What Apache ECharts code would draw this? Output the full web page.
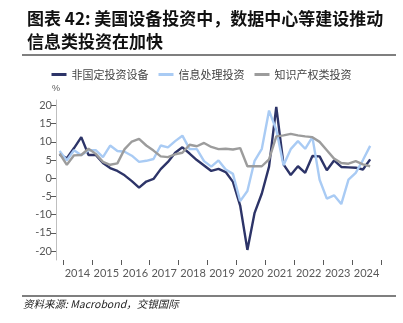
<!DOCTYPE html>
<html><head><meta charset="utf-8">
<script src="https://cdn.jsdelivr.net/npm/echarts@6/dist/echarts.min.js"></script>
<style>html,body{margin:0;padding:0;background:#fff}#c{width:403px;height:323px}</style>
</head><body><div id="c"></div>
<script>
// Quarterly data 2013Q4 .. 2024Q3 (YoY, %)
var startYear = 2013, startQuarter = 4, nPoints = 44;
var yearLabels = ['2014','2015','2016','2017','2018','2019','2020','2021','2022','2023','2024'];
var seriesNames = ['非国定投资设备','信息处理投资','知识产权类投资'];
var equipment = [6.5,5.5,8.3,11.3,6.4,6.4,4.2,2.8,2.0,0.8,-0.8,-2.6,-0.9,-0.2,2.5,4.5,7.0,8.5,6.8,5.0,3.5,2.0,2.6,1.7,-1.0,-7.5,-19.7,-9.5,-4.2,3.2,19.6,3.8,0.9,3.3,1.5,6.1,6.0,2.2,4.9,3.1,3.0,2.9,2.4,5.2];
var infoProc = [7.5,4.9,7.7,6.3,7.7,7.7,5.8,9.0,7.5,7.3,6.2,4.5,4.8,5.3,9.0,8.5,10.2,11.7,8.0,8.0,4.7,3.2,4.9,2.4,1.2,-6.3,-3.5,4.8,8.1,18.6,13.3,3.6,8.0,10.2,8.1,11.3,-0.4,-5.6,-4.7,-7.1,-0.4,1.5,5.0,8.9];
var ipInvest = [6.8,3.7,6.3,6.4,8.1,6.7,4.5,3.7,4.1,8.0,10.1,10.8,9.0,7.6,6.0,5.8,6.6,7.0,9.2,8.8,9.7,8.6,8.0,8.1,7.9,8.3,3.3,3.3,3.3,5.2,11.5,11.8,12.2,11.8,11.5,11.3,10.0,7.7,5.4,4.2,4.0,4.7,3.8,3.3];

function quarterMid(i){ // mid-point of quarter i (decimal year)
  var q = startQuarter - 1 + i;
  return startYear + Math.floor(q/4) + ((q%4) + 0.5)/4;
}
function pairs(arr){ return arr.map(function(v,i){ return [quarterMid(i), v]; }); }

var chart = echarts.init(document.getElementById('c'), null, {renderer:'canvas'});
var axisGray = '#bfbfbf', labelGray = '#595959';
var lineSeries = function(name, data, color){
  return {name:name, type:'line', data:pairs(data), xAxisIndex:0, yAxisIndex:0,
    showSymbol:false, symbol:'none', clip:false,
    lineStyle:{width:2.4, color:color}, itemStyle:{color:color}};
};
chart.setOption({
  animation:false,
  title:{text:'图表 42: 美国设备投资中，数据中心等建设推动\n信息类投资在加快', left:22, top:2,
    textStyle:{fontSize:17, fontWeight:'bold', color:'#111', lineHeight:23, fontFamily:'Noto Sans CJK SC'}},
  legend:{top:64, left:'center', itemWidth:15, itemHeight:3, itemGap:10, icon:'rect',
    textStyle:{fontSize:11, color:'#444', fontFamily:'Noto Sans CJK SC'},
    data:seriesNames},
  grid:[
    {left:56, right:22, top:105.5, bottom:72},
    {left:63, right:22, top:100, bottom:63}
  ],
  xAxis:[
    {type:'value', gridIndex:0, min:2013.75, max:2025, show:false},
    {type:'category', gridIndex:1, data:yearLabels, boundaryGap:true,
      axisLine:{show:false}, axisTick:{show:true, length:5, lineStyle:{color:'#595959'}},
      axisLabel:{interval:0, fontSize:11, color:labelGray, margin:8, fontFamily:'Lato'}}
  ],
  yAxis:[
    {type:'value', gridIndex:0, min:-20, max:20, interval:5,
      name:'%', nameLocation:'end', nameGap:12, nameTextStyle:{fontSize:9, color:labelGray},
      axisLine:{show:false}, splitLine:{show:false},
      axisTick:{show:true, length:5, lineStyle:{color:'#595959'}},
      axisLabel:{fontSize:11, color:labelGray, margin:4, fontFamily:'Lato'}},
    {type:'value', gridIndex:1, min:0, max:1, offset:7,
      axisLine:{show:true, lineStyle:{color:axisGray, width:1}},
      axisTick:{show:false}, axisLabel:{show:false}, splitLine:{show:false}}
  ],
  graphic:[
    {type:'line', shape:{x1:22, y1:55, x2:396, y2:55}, style:{stroke:'#555', lineWidth:1.5}},
    {type:'line', shape:{x1:22, y1:296, x2:396, y2:296}, style:{stroke:'#555', lineWidth:1.5}},
    {type:'text', left:23, top:299, style:{text:'资料来源: Macrobond，交银国际', fontSize:10.5, fontStyle:'italic', fill:'#222', fontFamily:'Noto Sans CJK SC'}}
  ],
  series:[
    lineSeries(seriesNames[0], equipment, '#2d3468'),
    lineSeries(seriesNames[1], infoProc, '#a9cbf4'),
    lineSeries(seriesNames[2], ipInvest, '#9c9c9c')
  ]
});
</script></body></html>
